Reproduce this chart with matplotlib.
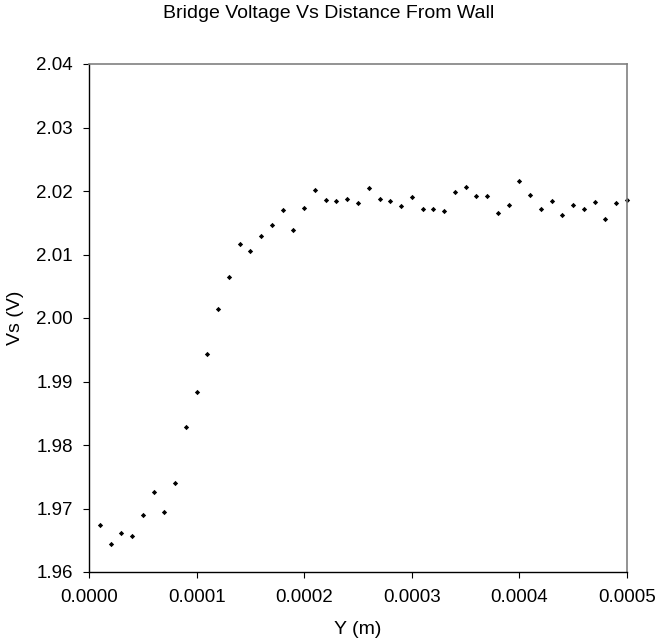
import matplotlib
matplotlib.use("Agg")
import matplotlib.pyplot as plt
from matplotlib.ticker import FormatStrFormatter

y_m = [0.00001, 0.00002, 0.00003, 0.00004, 0.00005, 0.00006, 0.00007, 0.00008, 0.00009, 0.00010,
       0.00011, 0.00012, 0.00013, 0.00014, 0.00015, 0.00016, 0.00017, 0.00018, 0.00019, 0.00020,
       0.00021, 0.00022, 0.00023, 0.00024, 0.00025, 0.00026, 0.00027, 0.00028, 0.00029, 0.00030,
       0.00031, 0.00032, 0.00033, 0.00034, 0.00035, 0.00036, 0.00037, 0.00038, 0.00039, 0.00040,
       0.00041, 0.00042, 0.00043, 0.00044, 0.00045, 0.00046, 0.00047, 0.00048, 0.00049, 0.00050]
vs = [1.9674, 1.9644, 1.9662, 1.9656, 1.9690, 1.9726, 1.9694, 1.9740, 1.9828, 1.9883,
      1.9944, 2.0014, 2.0065, 2.0116, 2.0106, 2.0129, 2.0147, 2.0170, 2.0138, 2.0173,
      2.0201, 2.0186, 2.0184, 2.0187, 2.0181, 2.0204, 2.0188, 2.0185, 2.0176, 2.0191,
      2.0172, 2.0172, 2.0168, 2.0198, 2.0207, 2.0192, 2.0192, 2.0165, 2.0178, 2.0216,
      2.0193, 2.0172, 2.0184, 2.0162, 2.0178, 2.0172, 2.0182, 2.0156, 2.0181, 2.0186]

x_ticks = [0.0, 0.0001, 0.0002, 0.0003, 0.0004, 0.0005]
y_ticks = [1.96, 1.97, 1.98, 1.99, 2.00, 2.01, 2.02, 2.03, 2.04]

plt.rcParams['font.family'] = ['Liberation Sans', 'DejaVu Sans']

W, H = 657, 644
fig = plt.figure(figsize=(W / 100, H / 100), dpi=100)
ax = fig.add_axes([89 / W, 1 - 572 / H, (627 - 89) / W, (572 - 64) / H])

ax.plot(y_m, vs, linestyle='none', marker='D', markersize=2.7, color='black',
        markeredgewidth=0, clip_on=False)

ax.set_xlim(0, 0.0005)
ax.set_ylim(1.96, 2.04)
ax.set_xticks(x_ticks)
ax.set_yticks(y_ticks)
ax.xaxis.set_major_formatter(FormatStrFormatter('%.4f'))
ax.yaxis.set_major_formatter(FormatStrFormatter('%.2f'))
ax.tick_params(axis='both', direction='out', length=4.5, width=0.8, labelsize=13.5,
               color='black')
ax.tick_params(axis='x', pad=8)
ax.tick_params(axis='y', pad=7)

for s in ['left', 'bottom']:
    ax.spines[s].set_color('black')
    ax.spines[s].set_linewidth(1.0)
for s in ['top', 'right']:
    ax.spines[s].set_color('#808080')
    ax.spines[s].set_linewidth(1.2)

fig.text(358 / W, 1 - 630 / H, 'Y (m)', ha='center', va='center', fontsize=14)
fig.text(15 / W, 1 - 318 / H, 'Vs (V)', ha='center', va='center', rotation=90, fontsize=14)
fig.text(0.5, 1 - 18.5 / H, 'Bridge Voltage Vs Distance From Wall', ha='center',
         va='baseline', fontsize=14)

fig.savefig('out.png', dpi=100)
